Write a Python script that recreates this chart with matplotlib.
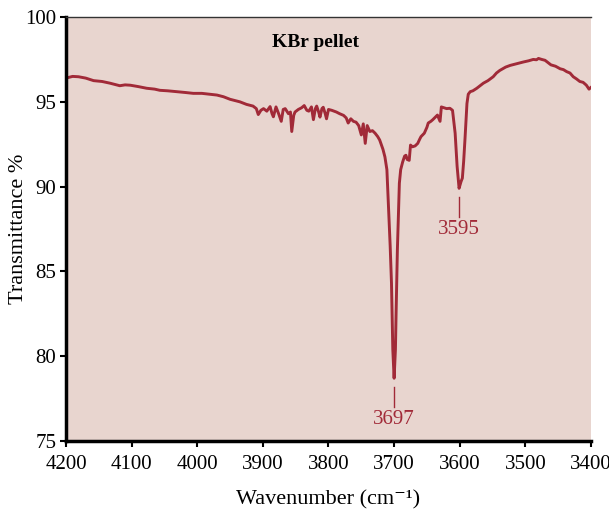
import matplotlib
matplotlib.use('Agg')
import matplotlib.pyplot as plt

LINE_COLOR = '#a12a38'
BG_COLOR = '#e8d5cf'

# spectrum (wavenumber in cm-1, transmittance in %)
wavenumber = [
    4200, 4190, 4181, 4170, 4158, 4145, 4133, 4118, 4110, 4102, 4090, 4077, 4065, 4057,
    4045, 4031, 4018, 4006, 3993, 3981, 3970, 3960, 3950, 3940, 3935, 3925, 3915, 3910,
    3907, 3903, 3899, 3894, 3889, 3886, 3884, 3880, 3876, 3872, 3869, 3866, 3861, 3858,
    3856, 3853, 3851, 3846, 3841, 3837, 3833, 3830, 3826, 3823, 3820, 3818, 3815, 3813,
    3810, 3808, 3805, 3803, 3800, 3795, 3788, 3783, 3777, 3773, 3770, 3766, 3762, 3758,
    3754, 3750, 3747, 3744, 3741, 3737, 3733, 3729, 3725, 3722, 3717, 3714, 3711, 3708,
    3706, 3704, 3702, 3700, 3698, 3697, 3695, 3693, 3692, 3690, 3687, 3684, 3682, 3680,
    3677, 3675, 3672, 3668, 3664, 3661, 3659, 3654, 3650, 3648, 3644, 3641, 3637, 3634,
    3630, 3628, 3624, 3620, 3615, 3611, 3609, 3607, 3604, 3601, 3598, 3596, 3594, 3592,
    3589, 3587, 3584, 3580, 3574, 3569, 3564, 3557, 3549, 3544, 3539, 3530, 3523, 3513,
    3503, 3495, 3488, 3483, 3480, 3475, 3470, 3465, 3461, 3454, 3447, 3442, 3437, 3432,
    3427, 3422, 3417, 3412, 3407, 3403, 3400,
]
transmittance = [
    96.40, 96.50, 96.48, 96.40, 96.25, 96.20, 96.10, 95.95, 96.00, 95.98, 95.90, 95.80, 95.75, 95.68,
    95.65, 95.60, 95.55, 95.50, 95.50, 95.45, 95.40, 95.30, 95.15, 95.05, 95.00, 94.85, 94.75, 94.60,
    94.25, 94.50, 94.60, 94.45, 94.72, 94.30, 94.12, 94.70, 94.30, 93.85, 94.55, 94.60, 94.30, 94.40,
    93.25, 94.20, 94.40, 94.55, 94.65, 94.78, 94.50, 94.45, 94.70, 93.95, 94.60, 94.75, 94.40, 94.10,
    94.60, 94.68, 94.30, 94.00, 94.55, 94.50, 94.40, 94.30, 94.20, 94.05, 93.75, 94.00, 93.85, 93.80,
    93.60, 93.05, 93.70, 92.55, 93.60, 93.25, 93.30, 93.15, 92.95, 92.75, 92.20, 91.75, 91.00, 88.30,
    86.50, 84.30, 80.40, 78.70, 80.40, 82.50, 86.30, 88.80, 90.20, 91.00, 91.45, 91.80, 91.85, 91.60,
    91.55, 92.45, 92.35, 92.40, 92.55, 92.80, 92.95, 93.15, 93.50, 93.75, 93.85, 93.95, 94.10, 94.22,
    93.85, 94.70, 94.65, 94.60, 94.62, 94.50, 93.80, 93.15, 91.20, 89.90, 90.30, 90.50, 91.50, 92.80,
    94.90, 95.45, 95.60, 95.65, 95.80, 95.95, 96.10, 96.25, 96.48, 96.70, 96.85, 97.05, 97.15, 97.25,
    97.35, 97.42, 97.50, 97.48, 97.56, 97.50, 97.45, 97.30, 97.18, 97.10, 96.95, 96.90, 96.78, 96.70,
    96.48, 96.35, 96.20, 96.15, 95.98, 95.75, 95.85,
]

peak_x = [3700, 3601]
peak_y = [78.70, 89.90]
peak_labels = ['3697', '3595']

x_ticks = [4200, 4100, 4000, 3900, 3800, 3700, 3600, 3500, 3400]
y_ticks = [75, 80, 85, 90, 95, 100]

plt.rcParams['font.family'] = ['Liberation Serif', 'DejaVu Serif']

fig = plt.figure(figsize=(6.09, 5.12), dpi=100)
ax = fig.add_axes([0.1084, 0.1387, 0.862, 0.828])
ax.set_facecolor(BG_COLOR)

ax.plot(wavenumber, transmittance, color=LINE_COLOR, lw=2.1)

# peak markers: short tick under each minimum and the label below it
for px, py, lab in zip(peak_x, peak_y, peak_labels):
    ax.plot([px, px], [py - 0.5, py - 1.7], color=LINE_COLOR, lw=1.0)
    ax.text(px, py - 1.85, lab, color=LINE_COLOR, fontsize=15, ha='center', va='top')

ax.text(0.476, 0.94, 'KBr pellet', transform=ax.transAxes, fontsize=14,
        fontweight='bold', ha='center', va='center')

ax.set_xlim(4200, 3400)
ax.set_ylim(75, 100)
ax.set_xticks(x_ticks)
ax.set_yticks(y_ticks)
ax.tick_params(axis='both', labelsize=15, direction='out', length=4, width=1.5)
ax.tick_params(axis='x', pad=6)
ax.tick_params(axis='y', pad=3)

ax.spines['left'].set_linewidth(2.5)
ax.spines['bottom'].set_linewidth(2.5)
ax.spines['top'].set_linewidth(1.0)
ax.spines['top'].set_color('#333333')
ax.spines['right'].set_visible(False)

ax.set_xlabel('Wavenumber (cm\u207b\u00b9)', fontsize=16, labelpad=12)
ax.set_ylabel('Transmittance %', fontsize=16)
ax.yaxis.set_label_coords(-0.072, 0.5)

fig.savefig('out.png', dpi=100)
